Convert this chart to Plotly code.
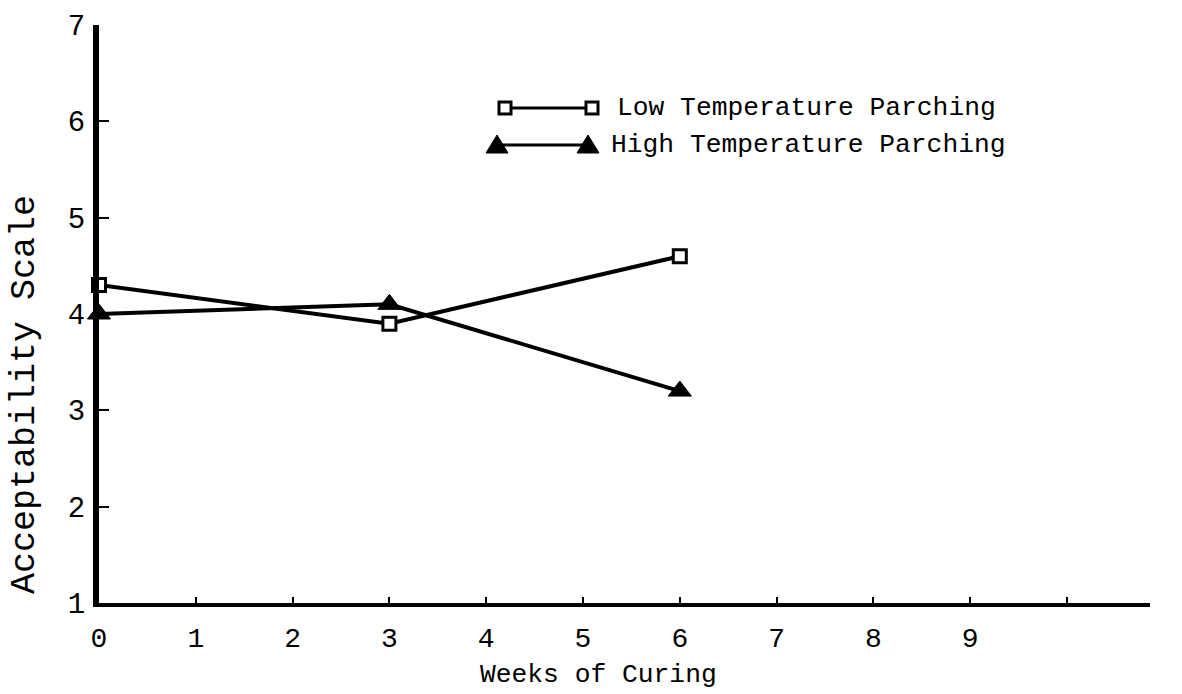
import plotly.graph_objects as go

# Acceptability scores over the curing period
weeks = [0, 3, 6]
low_temp = [4.3, 3.9, 4.6]
high_temp = [4.0, 4.1, 3.2]

x_tickvals = [0, 1, 2, 3, 4, 5, 6, 7, 8, 9, 10]
x_ticktext = ["0", "1", "2", "3", "4", "5", "6", "7", "8", "9", ""]
y_tickvals = [1, 2, 3, 4, 5, 6, 7]

series_names = ["Low Temperature Parching", "High Temperature Parching"]
x_title = "Weeks of Curing"
y_title = "Acceptability Scale"

W, H = 1182, 694
L, R, T, B = 99, 32, 25, 91
FONT = "Liberation Mono"


def px(xp):
    return (xp - L) / (W - L - R)


def py(yp):
    return (H - B - yp) / (H - T - B)


fig = go.Figure()

fig.add_trace(go.Scatter(
    x=weeks, y=low_temp, mode="lines+markers", name=series_names[0],
    line=dict(color="black", width=4),
    marker=dict(symbol="square", size=13, color="white",
                line=dict(color="black", width=3)),
    showlegend=False, cliponaxis=False,
))
fig.add_trace(go.Scatter(
    x=weeks, y=high_temp, mode="lines+markers", name=series_names[1],
    line=dict(color="black", width=4),
    marker=dict(symbol="triangle-up", size=20, color="black",
                line=dict(color="black", width=1)),
    showlegend=False, cliponaxis=False,
))

shapes = []
# legend key: low temperature (line with open squares at both ends)
ly1 = 108
shapes.append(dict(type="line", xref="paper", yref="paper",
                   x0=px(505), x1=px(592), y0=py(ly1), y1=py(ly1),
                   line=dict(color="black", width=3)))
for cx in (505, 592):
    shapes.append(dict(type="rect", xref="paper", yref="paper",
                       x0=px(cx - 6), x1=px(cx + 6), y0=py(ly1 + 6), y1=py(ly1 - 6),
                       fillcolor="white", line=dict(color="black", width=3)))
# legend key: high temperature (line with filled triangles at both ends)
ly2 = 145
shapes.append(dict(type="line", xref="paper", yref="paper",
                   x0=px(497), x1=px(588), y0=py(ly2), y1=py(ly2),
                   line=dict(color="black", width=3)))
for cx in (497, 588):
    path = "M {},{} L {},{} L {},{} Z".format(
        px(cx - 11), py(ly2 + 8), px(cx + 11), py(ly2 + 8), px(cx), py(ly2 - 10))
    shapes.append(dict(type="path", xref="paper", yref="paper", path=path,
                       fillcolor="black", line=dict(color="black", width=1)))

annotations = [
    dict(text=series_names[0], xref="paper", yref="paper", x=px(615), y=py(ly1),
         xanchor="left", yanchor="middle", showarrow=False,
         font=dict(family=FONT, size=26.3, color="black")),
    dict(text=series_names[1], xref="paper", yref="paper", x=px(609), y=py(ly2),
         xanchor="left", yanchor="middle", showarrow=False,
         font=dict(family=FONT, size=26.3, color="black")),
    dict(text=x_title, xref="paper", yref="paper", x=px(598), y=py(675),
         xanchor="center", yanchor="middle", showarrow=False,
         font=dict(family=FONT, size=26.3, color="black")),
    dict(text=y_title, xref="paper", yref="paper", x=px(25), y=py(395),
         xanchor="center", yanchor="middle", showarrow=False, textangle=-90,
         font=dict(family=FONT, size=35, color="black")),
]

fig.update_layout(
    width=W, height=H,
    margin=dict(l=L, r=R, t=T, b=B),
    paper_bgcolor="white", plot_bgcolor="white",
    shapes=shapes, annotations=annotations,
    font=dict(family=FONT, size=26, color="black"),
)
fig.update_xaxes(
    range=[0, (W - L - R) / 96.8], tickvals=x_tickvals, ticktext=x_ticktext,
    showgrid=False, zeroline=False, showline=True, linecolor="black", linewidth=4,
    ticks="inside", ticklen=6, tickwidth=2, tickcolor="black",
    ticklabelstandoff=6, tickfont=dict(family=FONT, size=28),
)
fig.update_yaxes(
    range=[1, 7], tickvals=y_tickvals,
    showgrid=False, zeroline=False, showline=True, linecolor="black", linewidth=6,
    ticks="inside", ticklen=10, tickwidth=2, tickcolor="black",
    ticklabelstandoff=2, tickfont=dict(family=FONT, size=29),
)

fig.write_html("out.html")
